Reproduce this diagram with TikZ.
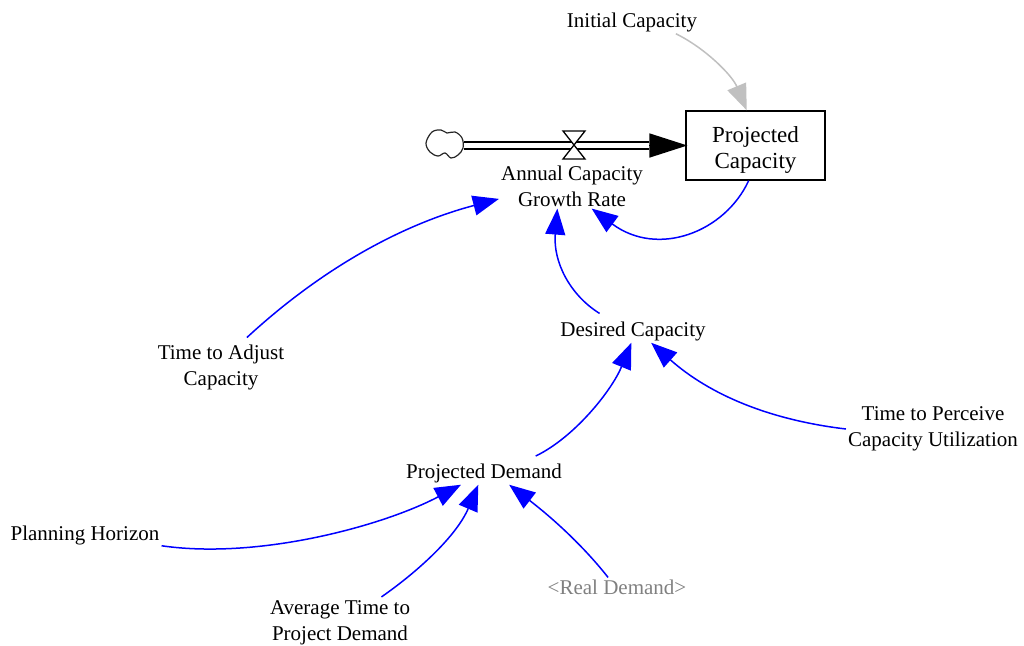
\documentclass[tikz,border=0pt]{standalone}
\usepackage{fontspec}
\setmainfont{Liberation Serif}
\usetikzlibrary{arrows.meta}
\definecolor{linkblue}{RGB}{0,0,255}
\definecolor{shadowgray}{RGB}{128,128,128}
\definecolor{lightlink}{RGB}{192,192,192}
\tikzset{
	var/.style={align=center,inner xsep=2pt,inner ysep=2pt,font=\fontsize{21}{26}\selectfont},
	link/.style={draw=linkblue,line width=1.5pt,-{Triangle[length=26pt,width=20pt,fill=linkblue]}},
	graylink/.style={draw=lightlink,line width=1.5pt,-{Triangle[length=26pt,width=20pt,fill=lightlink]}}
}

\begin{document}
\begin{tikzpicture}[x=1pt,y=-1pt]
	\useasboundingbox (0,0) rectangle (1024,645);
	\node[draw,line width=1.3pt,minimum width=139pt,minimum height=69pt,align=center,inner sep=0pt,font=\fontsize{23}{26}\selectfont] (capacity) at (755.5,145.5) {\rule{0pt}{24pt}Projected\\Capacity};
	\node[var] (rate) at (572,186) {Annual Capacity\\Growth Rate};
	\node[var] (initial) at (632,22) {Initial Capacity};
	\node[var] (desired) at (633,331) {Desired Capacity};
	\node[var] (adjust) at (221,367) {Time to Adjust\\Capacity};
	\node[var] (perceive) at (933,429) {Time to Perceive\\Capacity Utilization};
	\node[var] (demand) at (484,473) {Projected Demand};
	\node[var] (horizon) at (85,535) {Planning Horizon};
	\node[var] (average) at (340,623) {Average Time to\\Project Demand};
	\node[var,text=shadowgray] (real) at (617,587) {<Real Demand>};
	\coordinate (cloudend) at (464,145.5);
	\coordinate (flowhead) at (649,145.5);

	% source cloud
	\draw[line width=1.2pt,black!85] plot[smooth cycle,tension=0.6] coordinates {(426,143) (432,132) (441,130) (447,133) (455,132) (462,138) (463,148) (458,155) (451,158) (445,153) (438,156) (430,152)};
	% flow pipe and valve
	\draw[line width=1.8pt,double,double distance=4.5pt] (cloudend) -- (flowhead);
	\draw[-{Triangle[length=38pt,width=24pt,fill=black]},line width=1.5pt,shorten >=-2pt] (flowhead) -- (capacity.west);
	\draw[line width=1.3pt,fill=white] (563,131) -- (585,131) -- (563,159) -- (585,159) -- cycle;

	\draw[graylink] (initial.-15) .. controls (705,48) and (732,75) .. (capacity.104);
	\draw[link] (capacity.-101) .. controls (725,232) and (658,258) .. (rate.-49);
	\draw[link,shorten <=7pt] (adjust.50) .. controls (320,270) and (400,225) .. (rate.190);
	\draw[link,shorten <=11pt] (desired.154) .. controls (570,295) and (553,262) .. (rate.-123);
	\draw[link,shorten <=12pt] (demand.16) .. controls (575,437) and (612,390) .. (desired.-98);
	\draw[link] (perceive.west) .. controls (770,420) and (710,395) .. (desired.-33);
	\draw[link] (horizon.-8) .. controls (260,560) and (385,525) .. (demand.-153);
	\draw[link,shorten <=3pt] (average.32) .. controls (420,570) and (457,535) .. (demand.-116);
	\draw[link] (real.133) .. controls (585,548) and (555,520) .. (demand.-25);
\end{tikzpicture}
\end{document}
